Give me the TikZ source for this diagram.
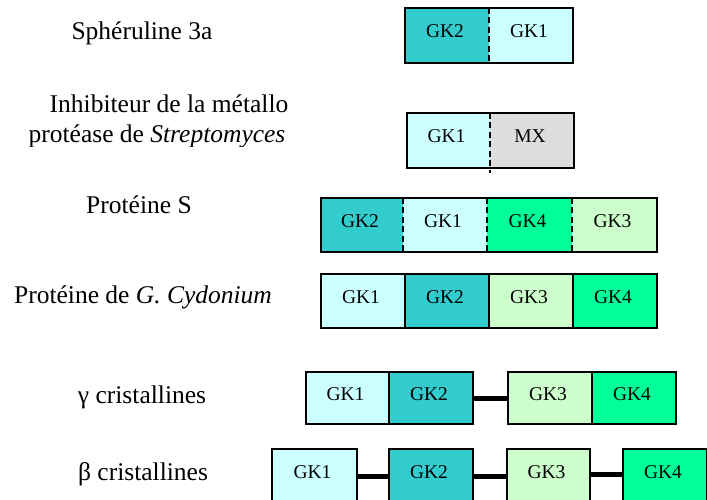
\documentclass[tikz,border=0pt]{standalone}
\usepackage{fontspec}
\setmainfont{Liberation Serif}
\newcommand\lblfont{\fontsize{25.5}{29}\selectfont}
\newcommand\gkfont{\fontsize{19.5}{22}\selectfont}
\definecolor{teal2}{HTML}{33CCCC}
\definecolor{cyan1}{HTML}{CCFFFF}
\definecolor{spring}{HTML}{00FF99}
\definecolor{mint}{HTML}{CCFFCC}
\definecolor{greyMX}{HTML}{DDDDDD}
\tikzset{
  cell/.style={rectangle, inner sep=0pt, minimum height=55pt, minimum width=#1},
  cell/.default=84pt,
  boxed/.style={draw, line width=1.5pt},
  gk/.style={label={[font=\gkfont, yshift=4pt, xshift=-2pt]center:#1}},
  divider/.style={line width=1.8pt, dash pattern=on 6pt off 3.5pt},
  linker/.style={line width=5pt},
  frame/.style={line width=1.5pt},
  protname/.style={font=\lblfont, anchor=base, inner sep=0pt}
}
\begin{document}
\begin{tikzpicture}[x=1pt, y=-1pt]
\useasboundingbox (0,0) rectangle (707,500);
\clip (0,0) rectangle (707,500);

% protein names
\node[protname] (n1) at (142,40) {Sphéruline 3a};
\node[protname] (n2a) at (169,113) {Inhibiteur de la métallo};
\begin{scope}
  \clip (0,120) rectangle (300,147);
  \node[protname] (n2b) at (157,143) {protéase de \textit{Streptomyces}};
\end{scope}
\node[protname] (n3) at (139,213) {Protéine S};
\node[protname] (n4) at (143,303) {Protéine de \textit{G. Cydonium}};
\node[protname] (n5) at (142,403) {γ cristallines};
\node[protname] (n6) at (143,480) {β cristallines};

% Sphéruline 3a
\node[cell, fill=teal2, gk=GK2] (a1) at (447,35.5) {};
\node[cell, fill=cyan1, gk=GK1] (a2) at (531,35.5) {};
\draw[frame] (a1.north west) rectangle (a2.south east);
\draw[divider] (a1.north east) -- (a1.south east);

% Inhibiteur de la métallo protéase
\node[cell=83pt, fill=cyan1, gk=GK1] (b1) at (448.5,140.5) {};
\node[cell, fill=greyMX, gk=MX] (b2) at (532,140.5) {};
\draw[frame] (b1.north west) rectangle (b2.south east);
\draw[divider] (b1.north east) -- ([yshift=-5pt]b1.south east);

% Protéine S
\node[cell=82pt, minimum height=54pt, fill=teal2, gk=GK2] (c1) at (362,225) {};
\node[cell, minimum height=54pt, fill=cyan1, gk=GK1] (c2) at (445,225) {};
\node[cell=85pt, minimum height=54pt, fill=spring, gk=GK4] (c3) at (529.5,225) {};
\node[cell=85pt, minimum height=54pt, fill=mint, gk=GK3] (c4) at (614.5,225) {};
\draw[frame] (c1.north west) rectangle (c4.south east);
\draw[divider] (c1.north east) -- (c1.south east);
\draw[divider] (c2.north east) -- (c2.south east);
\draw[divider] (c3.north east) -- (c3.south east);

% Protéine de G. Cydonium
\node[cell, minimum height=54pt, boxed, fill=cyan1, gk=GK1] (d1) at (363,301) {};
\node[cell, minimum height=54pt, boxed, fill=teal2, gk=GK2] (d2) at (447,301) {};
\node[cell, minimum height=54pt, boxed, fill=mint, gk=GK3] (d3) at (531,301) {};
\node[cell, minimum height=54pt, boxed, fill=spring, gk=GK4] (d4) at (615,301) {};

% gamma cristallines
\node[cell=83pt, minimum height=52pt, boxed, fill=cyan1, gk=GK1] (e1) at (347.5,398) {};
\node[cell, minimum height=52pt, boxed, fill=teal2, gk=GK2] (e2) at (431,398) {};
\node[cell, minimum height=52pt, boxed, fill=mint, gk=GK3] (e3) at (550,398) {};
\node[cell, minimum height=52pt, boxed, fill=spring, gk=GK4] (e4) at (634,398) {};
\draw[linker] (e2.east) -- (e3.west);

% beta cristallines
\node[cell=85pt, boxed, fill=cyan1, gk=GK1] (f1) at (314.5,476.5) {};
\node[cell, boxed, fill=teal2, gk=GK2] (f2) at (431,476.5) {};
\node[cell=83pt, boxed, fill=mint, gk=GK3] (f3) at (548.5,476.5) {};
\node[cell, boxed, fill=spring, gk=GK4] (f4) at (665,476.5) {};
\draw[linker] (f1.east) -- (f2.west);
\draw[linker] (f2.east) -- (f3.west);
\draw[linker] ([yshift=2pt]f3.east) -- ([yshift=2pt]f4.west);
\end{tikzpicture}
\end{document}
